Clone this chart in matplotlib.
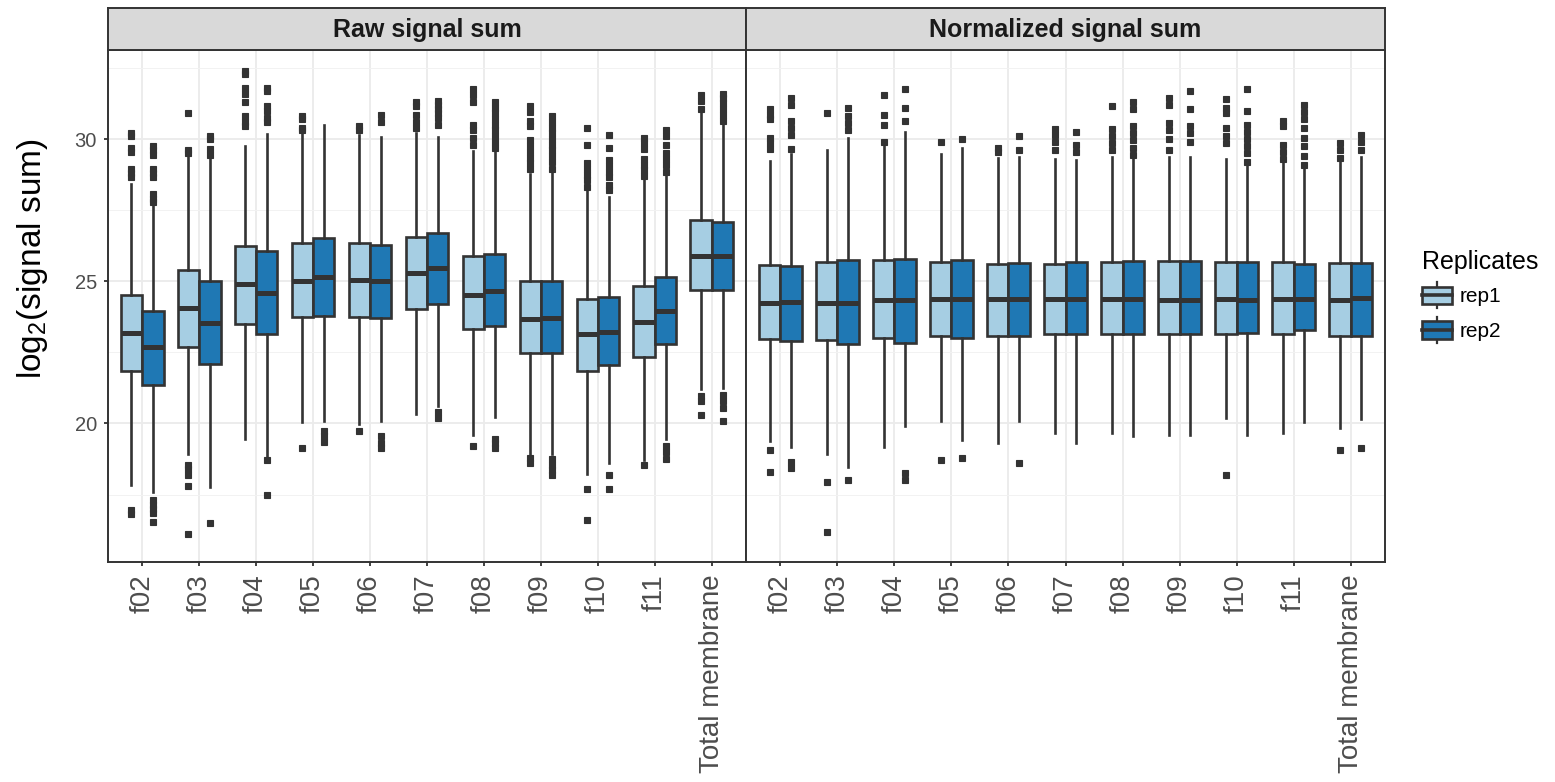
import matplotlib
matplotlib.use("Agg")
import matplotlib.pyplot as plt
import numpy as np
from matplotlib.legend_handler import HandlerBase
from matplotlib.patches import Patch, Rectangle
from matplotlib.lines import Line2D

plt.rcParams["font.family"] = ["Liberation Sans", "DejaVu Sans"]

# --- data ---
categories = ["f02", "f03", "f04", "f05", "f06", "f07", "f08", "f09", "f10", "f11",
              "Total membrane"]
panels = ["Raw signal sum", "Normalized signal sum"]
replicates = ["rep1", "rep2"]
rep_colors = ["#A6CEE3", "#1F78B4"]

# Raw signal sum, rep1
raw_r1_lo = [17.82, 18.93, 19.46, 20.05, 19.99, 20.34, 19.58, 18.93, 18.21, 18.70, 21.22]
raw_r1_q1 = [21.83, 22.70, 23.50, 23.74, 23.74, 24.02, 23.31, 22.48, 21.83, 22.33, 24.70]
raw_r1_med = [23.19, 24.06, 24.91, 25.02, 25.05, 25.30, 24.50, 23.68, 23.13, 23.56, 25.90]
raw_r1_q3 = [24.50, 25.41, 26.25, 26.33, 26.33, 26.57, 25.88, 25.01, 24.36, 24.85, 27.15]
raw_r1_hi = [28.42, 29.45, 29.77, 30.18, 30.15, 30.20, 29.57, 28.77, 28.18, 28.55, 30.90]
raw_r1_out = [
    [30.2, 30.1, 29.7, 29.55, 28.95, 28.8, 28.65, 16.95, 16.8],
    [30.9, 29.6, 29.5, 18.55, 18.4, 18.2, 17.8, 16.1],
    [32.4, 32.3, 31.8, 31.6, 31.3, 30.8, 30.6, 30.45],
    [30.8, 30.7, 30.4, 30.3, 19.15],
    [30.45, 30.3, 19.75],
    [31.3, 31.15, 30.85, 30.6, 30.4],
    [31.75, 31.55, 31.3, 30.5, 30.3, 30.05, 29.8, 19.2],
    [31.15, 30.95, 30.65, 30.45, 29.95, 29.75, 29.55, 29.35, 29.15, 28.95, 18.8, 18.6],
    [30.4, 29.8, 29.15, 28.95, 28.75, 28.55, 28.3, 17.7, 16.6],
    [30.05, 29.85, 29.65, 29.3, 29.1, 28.9, 28.7, 18.55],
    [31.55, 31.35, 31.05, 20.95, 20.8, 20.3],
]

# Raw signal sum, rep2
raw_r2_lo = [17.59, 17.76, 18.87, 20.10, 20.10, 20.60, 20.22, 18.93, 18.62, 19.46, 21.25]
raw_r2_q1 = [21.37, 22.10, 23.15, 23.79, 23.71, 24.20, 23.42, 22.48, 22.07, 22.78, 24.70]
raw_r2_med = [22.68, 23.54, 24.59, 25.14, 25.00, 25.47, 24.64, 23.70, 23.23, 23.97, 25.90]
raw_r2_q3 = [23.97, 25.00, 26.08, 26.52, 26.29, 26.70, 25.96, 25.02, 24.46, 25.14, 27.07]
raw_r2_hi = [27.65, 29.30, 30.18, 30.50, 30.06, 30.08, 29.60, 28.80, 27.97, 28.71, 30.50]
raw_r2_out = [
    [29.75, 29.6, 29.45, 28.95, 28.8, 28.65, 28.05, 27.9, 27.8, 17.3, 17.15, 17.0, 16.85, 16.55],
    [30.1, 30.0, 29.65, 29.45, 16.5],
    [31.8, 31.7, 31.15, 31.0, 30.75, 30.6, 18.7, 17.5],
    [19.75, 19.55, 19.35],
    [30.85, 30.6, 19.55, 19.3, 19.15],
    [31.35, 31.2, 31.05, 30.9, 30.75, 30.5, 20.4, 20.2],
    [31.3, 31.1, 30.9, 30.7, 30.5, 30.3, 30.1, 29.9, 29.7, 19.45, 19.3, 19.15],
    [30.8, 30.6, 30.4, 30.2, 30.0, 29.8, 29.6, 29.4, 29.2, 28.95, 18.75, 18.55, 18.35, 18.2],
    [30.15, 29.7, 29.25, 29.05, 28.85, 28.65, 28.4, 28.2, 18.2, 17.7],
    [30.3, 30.1, 29.8, 29.5, 29.3, 29.1, 28.85, 19.2, 19.0, 18.75],
    [31.6, 31.45, 31.25, 31.05, 30.85, 30.65, 21.0, 20.8, 20.55, 20.1],
]

# Normalized signal sum, rep1
norm_r1_lo = [19.40, 18.93, 19.17, 20.08, 19.31, 19.67, 19.66, 19.58, 20.19, 19.66, 19.85]
norm_r1_q1 = [22.97, 22.94, 23.00, 23.06, 23.09, 23.13, 23.13, 23.15, 23.13, 23.15, 23.09]
norm_r1_med = [24.24, 24.24, 24.34, 24.37, 24.37, 24.37, 24.37, 24.34, 24.38, 24.37, 24.34]
norm_r1_q3 = [25.57, 25.67, 25.73, 25.67, 25.61, 25.61, 25.69, 25.70, 25.69, 25.66, 25.64]
norm_r1_hi = [29.22, 29.63, 29.77, 29.47, 29.33, 29.29, 29.38, 29.38, 29.30, 29.18, 29.30]
norm_r1_out = [
    [31.05, 30.85, 30.7, 30.05, 29.85, 29.65, 19.05, 18.3],
    [30.9, 17.95, 16.2],
    [31.55, 30.85, 30.5, 29.9],
    [29.9, 18.7],
    [29.7, 29.55],
    [30.35, 30.15, 29.9, 29.6],
    [31.15, 30.35, 30.1, 29.85, 29.6],
    [31.45, 31.2, 30.55, 30.3, 30.0, 29.6],
    [31.4, 31.1, 30.9, 30.4, 30.1, 29.85, 18.2],
    [30.65, 30.45, 29.8, 29.55, 29.3],
    [29.85, 29.6, 29.35, 19.05],
]

# Normalized signal sum, rep2
norm_r2_lo = [19.17, 18.47, 19.90, 19.43, 20.08, 19.33, 19.55, 19.61, 19.61, 20.04, 20.16]
norm_r2_q1 = [22.89, 22.80, 22.82, 22.99, 23.09, 23.13, 23.15, 23.15, 23.17, 23.27, 23.09]
norm_r2_med = [24.26, 24.24, 24.34, 24.38, 24.37, 24.37, 24.37, 24.34, 24.34, 24.37, 24.40]
norm_r2_q3 = [25.52, 25.75, 25.78, 25.75, 25.63, 25.66, 25.70, 25.70, 25.67, 25.59, 25.64]
norm_r2_hi = [29.47, 30.04, 30.23, 29.68, 29.36, 29.26, 29.33, 29.38, 29.15, 29.00, 29.36]
norm_r2_out = [
    [31.45, 31.2, 30.65, 30.4, 30.15, 29.65, 18.65, 18.45],
    [31.1, 30.8, 30.55, 30.3, 18.0],
    [31.75, 31.1, 30.65, 18.25, 18.0],
    [30.0, 18.8],
    [30.1, 29.6, 18.6],
    [30.25, 29.8, 29.55],
    [31.3, 31.05, 30.45, 30.2, 29.95, 29.7, 29.45],
    [31.7, 31.05, 30.45, 30.2, 29.9],
    [31.75, 31.0, 30.5, 30.25, 30.0, 29.75, 29.5, 29.2],
    [31.2, 30.95, 30.7, 30.4, 30.05, 29.75, 29.4, 29.1],
    [30.15, 29.9, 29.6, 19.15],
]

panel_data = [
    [(raw_r1_lo, raw_r1_q1, raw_r1_med, raw_r1_q3, raw_r1_hi, raw_r1_out),
     (raw_r2_lo, raw_r2_q1, raw_r2_med, raw_r2_q3, raw_r2_hi, raw_r2_out)],
    [(norm_r1_lo, norm_r1_q1, norm_r1_med, norm_r1_q3, norm_r1_hi, norm_r1_out),
     (norm_r2_lo, norm_r2_q1, norm_r2_med, norm_r2_q3, norm_r2_hi, norm_r2_out)],
]

EDGE = "#333333"
W, H = 1555, 782


class BoxKeyHandler(HandlerBase):
    # small boxplot glyph like the ggplot legend key
    def create_artists(self, legend, orig_handle, xdescent, ydescent,
                       width, height, fontsize, trans):
        x0, y0 = -xdescent, -ydescent
        bh = height * 0.68
        by = y0 + (height - bh) / 2
        xm = x0 + width / 2
        wb = Line2D([xm, xm], [y0, by], color=EDGE, lw=1.6, transform=trans)
        wt = Line2D([xm, xm], [by + bh, y0 + height], color=EDGE, lw=1.6, transform=trans)
        box = Rectangle((x0, by), width, bh, facecolor=orig_handle.get_facecolor(),
                        edgecolor=EDGE, linewidth=1.9, transform=trans)
        med = Line2D([x0, x0 + width], [by + bh / 2] * 2, color=EDGE, lw=2.6,
                     transform=trans)
        return [wb, wt, box, med]


fig = plt.figure(figsize=(W / 100, H / 100), dpi=100)

panel_x = [(108, 746), (746, 1385)]
panel_top, panel_bottom, strip_top = 50, 562, 8
x = np.arange(len(categories))

for p, (name, reps) in enumerate(zip(panels, panel_data)):
    x0, x1 = panel_x[p]
    ax = fig.add_axes([x0 / W, 1 - panel_bottom / H, (x1 - x0) / W,
                       (panel_bottom - panel_top) / H])
    for r, (lo, q1, med, q3, hi, out) in enumerate(reps):
        stats = [dict(whislo=lo[i], q1=q1[i], med=med[i], q3=q3[i], whishi=hi[i],
                      fliers=out[i]) for i in range(len(categories))]
        ax.bxp(stats, positions=x + (r - 0.5) * 0.375, widths=0.375,
               patch_artist=True, showcaps=False, manage_ticks=False,
               boxprops=dict(facecolor=rep_colors[r], edgecolor=EDGE, linewidth=1.9),
               medianprops=dict(color=EDGE, linewidth=3.6, solid_capstyle="butt"),
               whiskerprops=dict(color=EDGE, linewidth=1.9),
               flierprops=dict(marker="s", markerfacecolor=EDGE, markeredgecolor=EDGE,
                               markeredgewidth=0.8, markersize=4.6, linestyle="none"))

    ax.set_xlim(-0.6, len(categories) - 0.4)
    ax.set_ylim(15.13, 33.13)
    ax.set_yticks([20, 25, 30])
    ax.set_yticks([17.5, 22.5, 27.5, 32.5], minor=True)
    ax.set_xticks(x)
    ax.set_xticklabels(categories, rotation=90, fontsize=20, color="#4D4D4D")
    ax.grid(True, which="major", color="#EBEBEB", linewidth=1.3)
    ax.grid(True, which="minor", axis="y", color="#F2F2F2", linewidth=0.7)
    ax.set_axisbelow(True)
    ax.tick_params(axis="x", length=3, width=1.3, color=EDGE, pad=6)
    ax.tick_params(axis="y", which="major", length=3, width=1.3, color=EDGE,
                   labelsize=14.5, labelcolor="#4D4D4D", pad=5)
    ax.tick_params(axis="y", which="minor", length=0)
    if p == 1:
        ax.tick_params(axis="y", which="major", length=0, labelleft=False)
    for s in ax.spines.values():
        s.set_color(EDGE)
        s.set_linewidth(1.4)

    # facet strip
    sax = fig.add_axes([x0 / W, 1 - panel_top / H, (x1 - x0) / W,
                        (panel_top - strip_top) / H])
    sax.set_facecolor("#D9D9D9")
    sax.set_xticks([])
    sax.set_yticks([])
    for s in sax.spines.values():
        s.set_color(EDGE)
        s.set_linewidth(1.4)
    sax.text(0.5, 0.47, name, transform=sax.transAxes, ha="center", va="center",
             fontsize=18, fontweight="bold", color="#1A1A1A")

fig.text(33 / W, 1 - 259 / H, r"$\mathregular{log_2}$(signal sum)", rotation=90,
         ha="center", va="center", fontsize=24, color="black")

handles = [Patch(facecolor=c) for c in rep_colors]
leg = fig.legend(handles, replicates, handler_map={Patch: BoxKeyHandler()},
                 loc="upper left", bbox_to_anchor=(1422 / W, 1 - 250 / H),
                 frameon=False, title="Replicates", title_fontsize=18, fontsize=15,
                 handlelength=1.45, handleheight=1.55, labelspacing=0.4,
                 handletextpad=0.35, borderpad=0, borderaxespad=0)
leg._legend_box.align = "left"

fig.savefig("out.png", dpi=100)
